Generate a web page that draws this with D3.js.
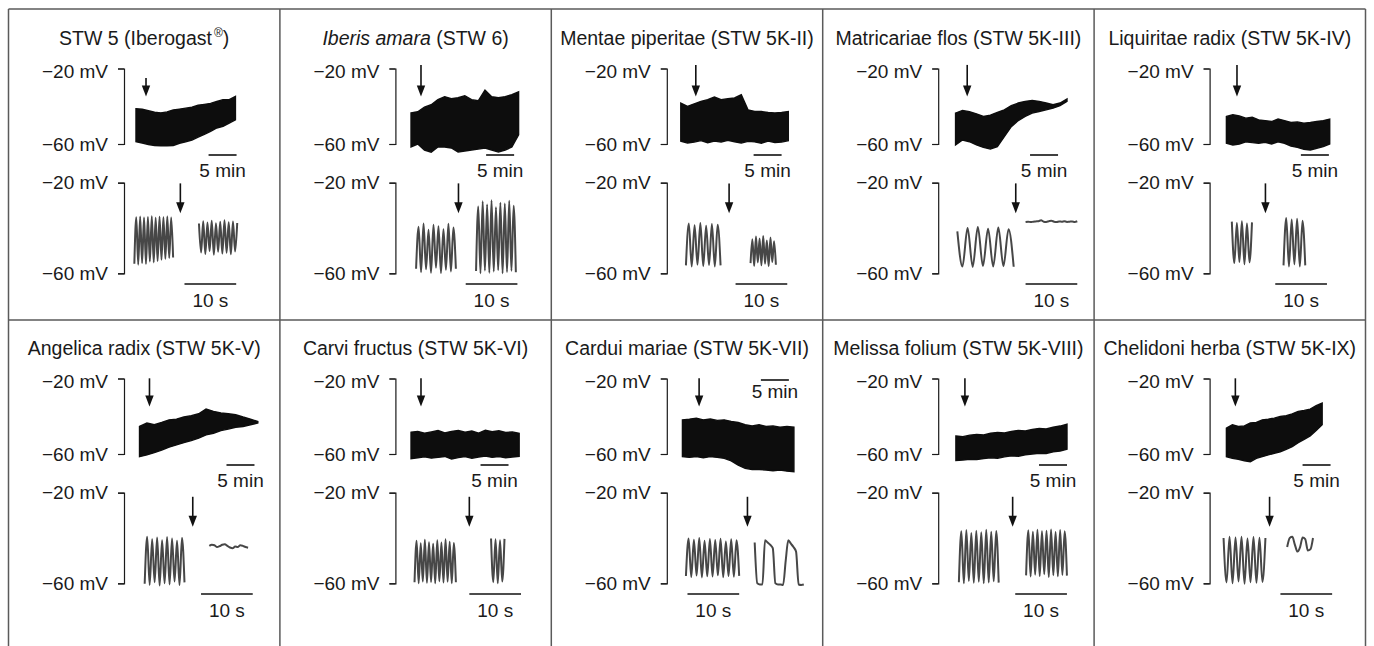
<!DOCTYPE html>
<html><head><meta charset="utf-8">
<script src="https://cdn.jsdelivr.net/npm/d3@7"></script>
<style>
body{margin:0;background:#fff}
text{font-family:"Liberation Sans",Arial,Helvetica,sans-serif;fill:#1a1a1a}
</style>
</head><body>
<svg id="c" width="1374" height="646"></svg>
<script>
// ---------------- DATA ----------------
const titles = ["STW 5 (Iberogast®)", "Iberis amara (STW 6)", "Mentae piperitae (STW 5K-II)",
  "Matricariae flos (STW 5K-III)", "Liquiritae radix (STW 5K-IV)", "Angelica radix (STW 5K-V)",
  "Carvi fructus (STW 5K-VI)", "Cardui mariae (STW 5K-VII)", "Melissa folium (STW 5K-VIII)",
  "Chelidoni herba (STW 5K-IX)"];
const mvTicks = [-20, -60];
const minBarLabel = "5 min", secBarLabel = "10 s";

// slow recordings (minutes): envelope of membrane potential (mV), evenly sampled from start to end
const bandStartMin = [2.14, 2.79, 2.5, 3.1, 3.0, 2.77, 2.79, 2.79, 3.16, 3.0];
const bandEndMin   = [19.9, 22.0, 21.7, 23.0, 21.45, 23.9, 22.1, 22.7, 23.0, 20.1];
const bandTop = [
 [-41.3,-41.6,-42.4,-43.2,-43.5,-43,-42,-41.5,-41,-40.5,-39.5,-39,-38.5,-37.5,-36.5,-36.5,-34.8],
 [-43.5,-42.9,-40.5,-39.2,-36.5,-34.9,-36,-35.5,-34.4,-36.5,-37.1,-31.5,-35,-35.5,-34.9,-33.9,-32.3],
 [-38.3,-40.1,-38.7,-37.4,-36.5,-35.1,-36.5,-36,-35.6,-33.9,-41.9,-42.8,-42.8,-43.3,-43.6,-43.3,-42.8],
 [-43.6,-42.2,-42.9,-44,-45.4,-44.7,-43.3,-41.9,-39.7,-38.3,-37.4,-36.9,-37.4,-38.3,-39.2,-38.3,-36.2],
 [-45.4,-44.5,-45.1,-46.3,-45.8,-47.2,-47.6,-48.1,-46.8,-47.6,-48.6,-48.3,-49,-48.6,-48.1,-47.6,-46.8],
 [-45.4,-43.6,-44.5,-43.3,-41.9,-41.5,-40.4,-39.7,-38.7,-36.2,-37.4,-38.3,-38.7,-39.2,-40.4,-41.5,-42.8],
 [-48.5,-48,-49,-48.3,-47.6,-48.8,-48,-47.5,-48.5,-47.8,-48.9,-47.4,-48.2,-47.7,-48.6,-48.3,-49],
 [-41.9,-41.5,-41,-41.9,-41.5,-42.2,-41.9,-42.8,-43.3,-44.5,-45.1,-44.5,-45.4,-45.1,-45.8,-45.4,-45.8],
 [-50.5,-50.8,-50,-49.6,-49.9,-49,-48.6,-48.9,-48,-47.5,-47.8,-47,-46.4,-46.7,-45.8,-45.2,-44.2],
 [-46.3,-44.5,-45.4,-45.1,-43.6,-43.3,-41.9,-41.5,-41,-40.1,-39.7,-38.7,-37.4,-36.9,-36.2,-34.4,-33]
];
const bandBottom = [
 [-58.8,-59.5,-60.3,-60.8,-60.9,-60.9,-60.8,-59.6,-58.8,-57.9,-56.3,-54.9,-53.3,-51.5,-50.7,-48.9,-47.2],
 [-61.6,-60,-63.2,-64.3,-61.6,-61.6,-62.1,-64.3,-63.7,-63.2,-62.7,-62.1,-63.2,-64.3,-63.2,-61.6,-55.2],
 [-58.5,-59.5,-59,-58.2,-59.3,-58.5,-59,-58,-58.8,-59.5,-58.6,-58.9,-59.6,-58.4,-59.2,-59,-58.2],
 [-60.5,-57.9,-58.8,-60.5,-61.8,-62.7,-61.4,-56.1,-50.8,-47.6,-45.4,-43.6,-42.8,-41.9,-41,-39.7,-37.4],
 [-59.6,-60.5,-60,-58.8,-59.3,-59.6,-59.1,-60,-58.8,-59.6,-61.1,-61.8,-62.8,-63.2,-62.3,-61.4,-60],
 [-61.4,-60.5,-59.3,-57.9,-56.4,-55.2,-54,-52.9,-51.6,-49.9,-49,-47.6,-46.8,-45.8,-45.4,-44.5,-43.6],
 [-62.5,-62,-61.5,-62.2,-61.8,-61.3,-62.6,-61.9,-61.4,-62.3,-61.6,-61.1,-61.8,-61.3,-62,-61.6,-61.2],
 [-61.4,-61.8,-61.4,-62,-61.4,-61.8,-62.3,-63.6,-65.9,-67.6,-68.2,-68.2,-68.5,-68.9,-68.5,-69.1,-69.4],
 [-63.5,-63.2,-62.8,-63,-62.4,-62,-62.3,-61.5,-61,-61.2,-60.4,-60,-59.6,-59.8,-58.9,-58.4,-57.5],
 [-61.4,-62.3,-62.8,-63.6,-64.1,-62.3,-61.4,-60.5,-59.6,-58.8,-57.5,-56.1,-54,-52.2,-50.4,-47.6,-44.5]
];
const applyMin = [3.93, 4.57, 5.18, 5.18, 4.89, 4.55, 4.57, 5.77, 4.77, 4.6];

// fast recordings (seconds): before / after application, evenly sampled peaks & troughs (mV)
const applySec = [10.9, 12.2, 12.05, 15.0, 10.8, 13.3, 14.3, 15.6, 14.4, 11.6];
const preStart = [2.0, 4.0, 3.7, 3.7, 4.3, 4.0, 3.7, 3.7, 4.0, 2.7];
const preEnd   = [9.5, 11.7, 10.4, 14.6, 8.2, 11.7, 11.7, 14.0, 11.7, 10.8];
const preValues = [
 [-55.8,-35.2,-56.2,-34.9,-55.5,-35.4,-55.9,-35.1,-54.8,-34.8,-55.2,-35.5,-54.6,-35,-54,-35.3,-53.6,-34.9,-53.2,-35.4,-53],
 [-58,-39.5,-59.5,-38,-58.2,-40.8,-59.8,-38.6,-57.5,-39.2,-59.9,-40.5,-58.4,-38.1,-59.2,-39.8,-58],
 [-56.5,-38,-57,-38.8,-56.2,-37.8,-56.9,-39,-56.4,-38.2,-57,-38.6,-56.5],
 [-41.5,-57,-40,-57.2,-39.6,-56.8,-40.3,-57,-39.8,-56.9,-40.5,-57.1],
 [-37.2,-55.5,-37.8,-55,-37,-56,-38,-55.2,-37.5],
 [-60.2,-39.4,-60.7,-40.5,-59.5,-39.8,-61,-41,-60,-39.6,-60.5,-40.2,-59.2,-41.2,-60.8,-39.9,-59.6],
 [-59.5,-41.2,-60,-42.3,-59.2,-40.8,-59.8,-41.9,-59.4,-42.5,-60,-41,-59.1,-42,-59.7,-40.6,-59.3,-41.7,-60,-42.2,-59.5],
 [-56.8,-40.2,-57.2,-40.8,-56.6,-40,-57.4,-41.2,-56.9,-40.4,-57,-40.9,-56.5,-40.3,-57.3,-41.5,-56.8,-40.6,-57.1,-41,-56.7],
 [-59.5,-37,-60,-36.5,-59,-37.8,-59.8,-36.8,-59.3,-37.5,-60,-36.4,-59.6,-37.2,-59.1,-36.9,-59.7],
 [-40,-59.6,-39.4,-60,-39.8,-59.2,-39.5,-60.2,-40.2,-59.5,-39.6,-59.8,-39.9,-59.4,-40]
];
const postStart = [14.5, 15.6, 16.2, 16.9, 14.3, 16.5, 18.5, 17.0, 17.0, 15.0];
const postEnd   = [21.9, 23.3, 21.1, 26.9, 18.5, 24.0, 21.1, 26.5, 24.9, 20.0];
const postValues = [
 [-38,-50.8,-37,-51.5,-37.6,-50.2,-36.8,-51.8,-37.9,-50.5,-37.2,-51.3,-36.6,-50.9,-37.5,-51.6,-37.1,-50.4,-37.8],
 [-59,-30.5,-60,-28.2,-58.8,-29.6,-59.8,-27.8,-59.2,-30.8,-58.6,-28.8,-60,-29.2,-59.4,-28,-58.9,-30.2,-59.5],
 [-55.5,-45,-56.8,-43.8,-55.2,-44.6,-56.5,-43.5,-55.8,-45.5,-56.9,-44.2,-55,-45.8,-56.2],
 [-37.3,-37.2,-37.4,-37.2,-37.1,-37,-36.6,-37.2,-37.3,-37,-36.8,-37.2,-37.4,-37.1,-37.2,-37,-37.3,-37.2,-37.1,-37.3,-37],
 [-56.5,-35.6,-57,-36.2,-56,-35.9,-57,-36.8,-56.5],
 [-43.5,-43,-43.2,-44,-43.6,-43,-42.8,-43.5,-44.2,-44.5,-43.8,-44,-43.2,-43.5,-44,-44.3],
 [-40.2,-59.5,-40.6,-60,-41,-59.2,-40.4],
 [-42,-60,-60.5,-60.5,-41,-42,-43,-44.5,-60,-60.5,-60.5,-60.7,-50,-41,-42.5,-44,-46,-60.5,-60.7,-60.5],
 [-56.5,-36.6,-57,-37.2,-56.2,-36.4,-56.8,-37,-56,-36.8,-57.2,-36.2,-56.4,-37.4,-56.9,-36.5,-56.3,-37,-56.6],
 [-44,-40,-39.5,-43,-46,-44,-39.8,-40.5,-45.5,-45,-40]
];

// ---------------- LAYOUT ----------------
const L = {
  x0: 8.5, right: 1365.5, rowY: [9, 319], divider: 320, bracket: 115.5,
  pxPerMin: 5.6, pxPerSec: 5.17,
  up: [59.5, 135], low: [173.7, 264.3],
  minBarEnd: [20.1, 21.2, 20.5, 21.4, 21.3, 23.3, 20.2, 21.8, 23.0, 21.6],
  secBarEnd: [21.7, 23.6, 23.3, 26.9, 22.7, 24.9, 24.3, 14.0, 24.9, 23.7],
  arrowUpFrom: [-25, -18.1, -18.1, -18.1, -18.1, -19.9, -19.9, -19.9, -19.9, -19.9], arrowUpTip: -34.9,
  arrowLowFrom: [-20.3, -21.8], arrowLowTip: [-33.5, -35]
};
const PW = (L.right - L.x0) / 5;

const svg = d3.select("#c");
const frame = svg.append("g").attr("stroke", "#5a5a5a").attr("stroke-width", 1.5).attr("fill", "none");
frame.append("line").attr("x1", L.x0).attr("x2", L.right).attr("y1", L.rowY[0]).attr("y2", L.rowY[0]);
frame.append("line").attr("x1", L.x0).attr("x2", L.right).attr("y1", L.divider).attr("y2", L.divider);
for (let c = 0; c <= 5; c++) {
  const x = L.x0 + c * PW;
  frame.append("line").attr("x1", x).attr("x2", x).attr("y1", L.rowY[0]).attr("y2", 646);
}

function arrow(g, x, y1, y2) {
  g.append("line").attr("x1", x).attr("x2", x).attr("y1", y1).attr("y2", y2 - 6)
    .attr("stroke", "#111").attr("stroke-width", 1.6);
  g.append("path").attr("d", `M${x - 4.2},${y2 - 11}L${x + 4.2},${y2 - 11}L${x},${y2}Z`).attr("fill", "#111");
}
const fmt = d => "\u2212" + Math.abs(d) + " mV";

titles.forEach((title, i) => {
  const row = Math.floor(i / 5);
  const g = svg.append("g").attr("transform", `translate(${L.x0 + (i % 5) * PW},${L.rowY[row]})`);

  // title
  const t = g.append("text").attr("x", PW / 2).attr("y", 35.5).attr("text-anchor", "middle").attr("font-size", 19.5);
  if (i === 0) {
    t.append("tspan").text("STW 5 (Iberogast");
    t.append("tspan").attr("font-size", 12).attr("dx", 2).attr("dy", -8).text("®");
    t.append("tspan").attr("dy", 8).text(")");
  } else if (i === 1) {
    t.append("tspan").attr("font-style", "italic").text("Iberis amara");
    t.append("tspan").text(" (STW 6)");
  } else t.text(title);

  const xm = d3.scaleLinear().domain([0, 10]).range([L.bracket, L.bracket + 10 * L.pxPerMin]);
  const yu = d3.scaleLinear().domain(mvTicks).range(L.up);
  const xs = d3.scaleLinear().domain([0, 10]).range([L.bracket, L.bracket + 10 * L.pxPerSec]);
  const yl = d3.scaleLinear().domain(mvTicks).range(L.low);

  // brackets (axes)
  [[yu, 9], [yl, 6]].forEach(([ys, topDy]) => {
    const a = g.append("g").attr("transform", `translate(${L.bracket},0)`)
      .call(d3.axisLeft(ys).tickValues(mvTicks).tickSize(6).tickPadding(10).tickFormat(fmt));
    a.attr("font-size", 19).attr("font-family", null).attr("color", "#1a1a1a");
    a.select(".domain").attr("stroke-width", 1.2);
    a.selectAll(".tick line").attr("stroke-width", 1.2);
    a.selectAll(".tick text").attr("dy", d => (d === -20 ? topDy : 6.3) + "px");
  });

  // slow trace band
  const n = bandTop[i].length;
  const tb = d3.scaleLinear().domain([0, n - 1]).range([bandStartMin[i], bandEndMin[i]]);
  const area = d3.area().x((d, k) => xm(tb(k))).y0((d, k) => yu(bandBottom[i][k])).y1(d => yu(d));
  g.append("path").attr("d", area(bandTop[i])).attr("fill", "#0d0d0d")
    .attr("stroke", "#0d0d0d").attr("stroke-width", 1.4).attr("stroke-linejoin", "miter");
  arrow(g, xm(applyMin[i]), yu(L.arrowUpFrom[i]), yu(L.arrowUpTip));

  // 5 min bar
  const above = i === 7;
  const by = above ? 61 : 146, ty = above ? 79.3 : 167.7;
  const bx1 = xm(L.minBarEnd[i] - 5), bx2 = xm(L.minBarEnd[i]);
  g.append("line").attr("x1", bx1).attr("x2", bx2).attr("y1", by).attr("y2", by).attr("stroke", "#111").attr("stroke-width", 1.6);
  g.append("text").attr("x", (bx1 + bx2) / 2).attr("y", ty).attr("text-anchor", "middle").attr("font-size", 19).text(minBarLabel);

  // fast traces
  const line = d3.line().curve(d3.curveMonotoneX);
  [[preStart, preEnd, preValues], [postStart, postEnd, postValues]].forEach(([s, e, v]) => {
    const vals = v[i];
    const ts = d3.scaleLinear().domain([0, vals.length - 1]).range([s[i], e[i]]);
    g.append("path").attr("d", line(vals.map((d, k) => [xs(ts(k)), yl(d)])))
      .attr("fill", "none").attr("stroke", "#474747").attr("stroke-width", 2).attr("stroke-linejoin", "round");
  });
  arrow(g, xs(applySec[i]), yl(L.arrowLowFrom[row]), yl(L.arrowLowTip[row]));

  // 10 s bar
  const sx1 = xs(L.secBarEnd[i] - 10), sx2 = xs(L.secBarEnd[i]);
  g.append("line").attr("x1", sx1).attr("x2", sx2).attr("y1", 275).attr("y2", 275).attr("stroke", "#111").attr("stroke-width", 1.6);
  g.append("text").attr("x", (sx1 + sx2) / 2).attr("y", 297.7).attr("text-anchor", "middle").attr("font-size", 19).text(secBarLabel);
});
</script>
</body></html>
